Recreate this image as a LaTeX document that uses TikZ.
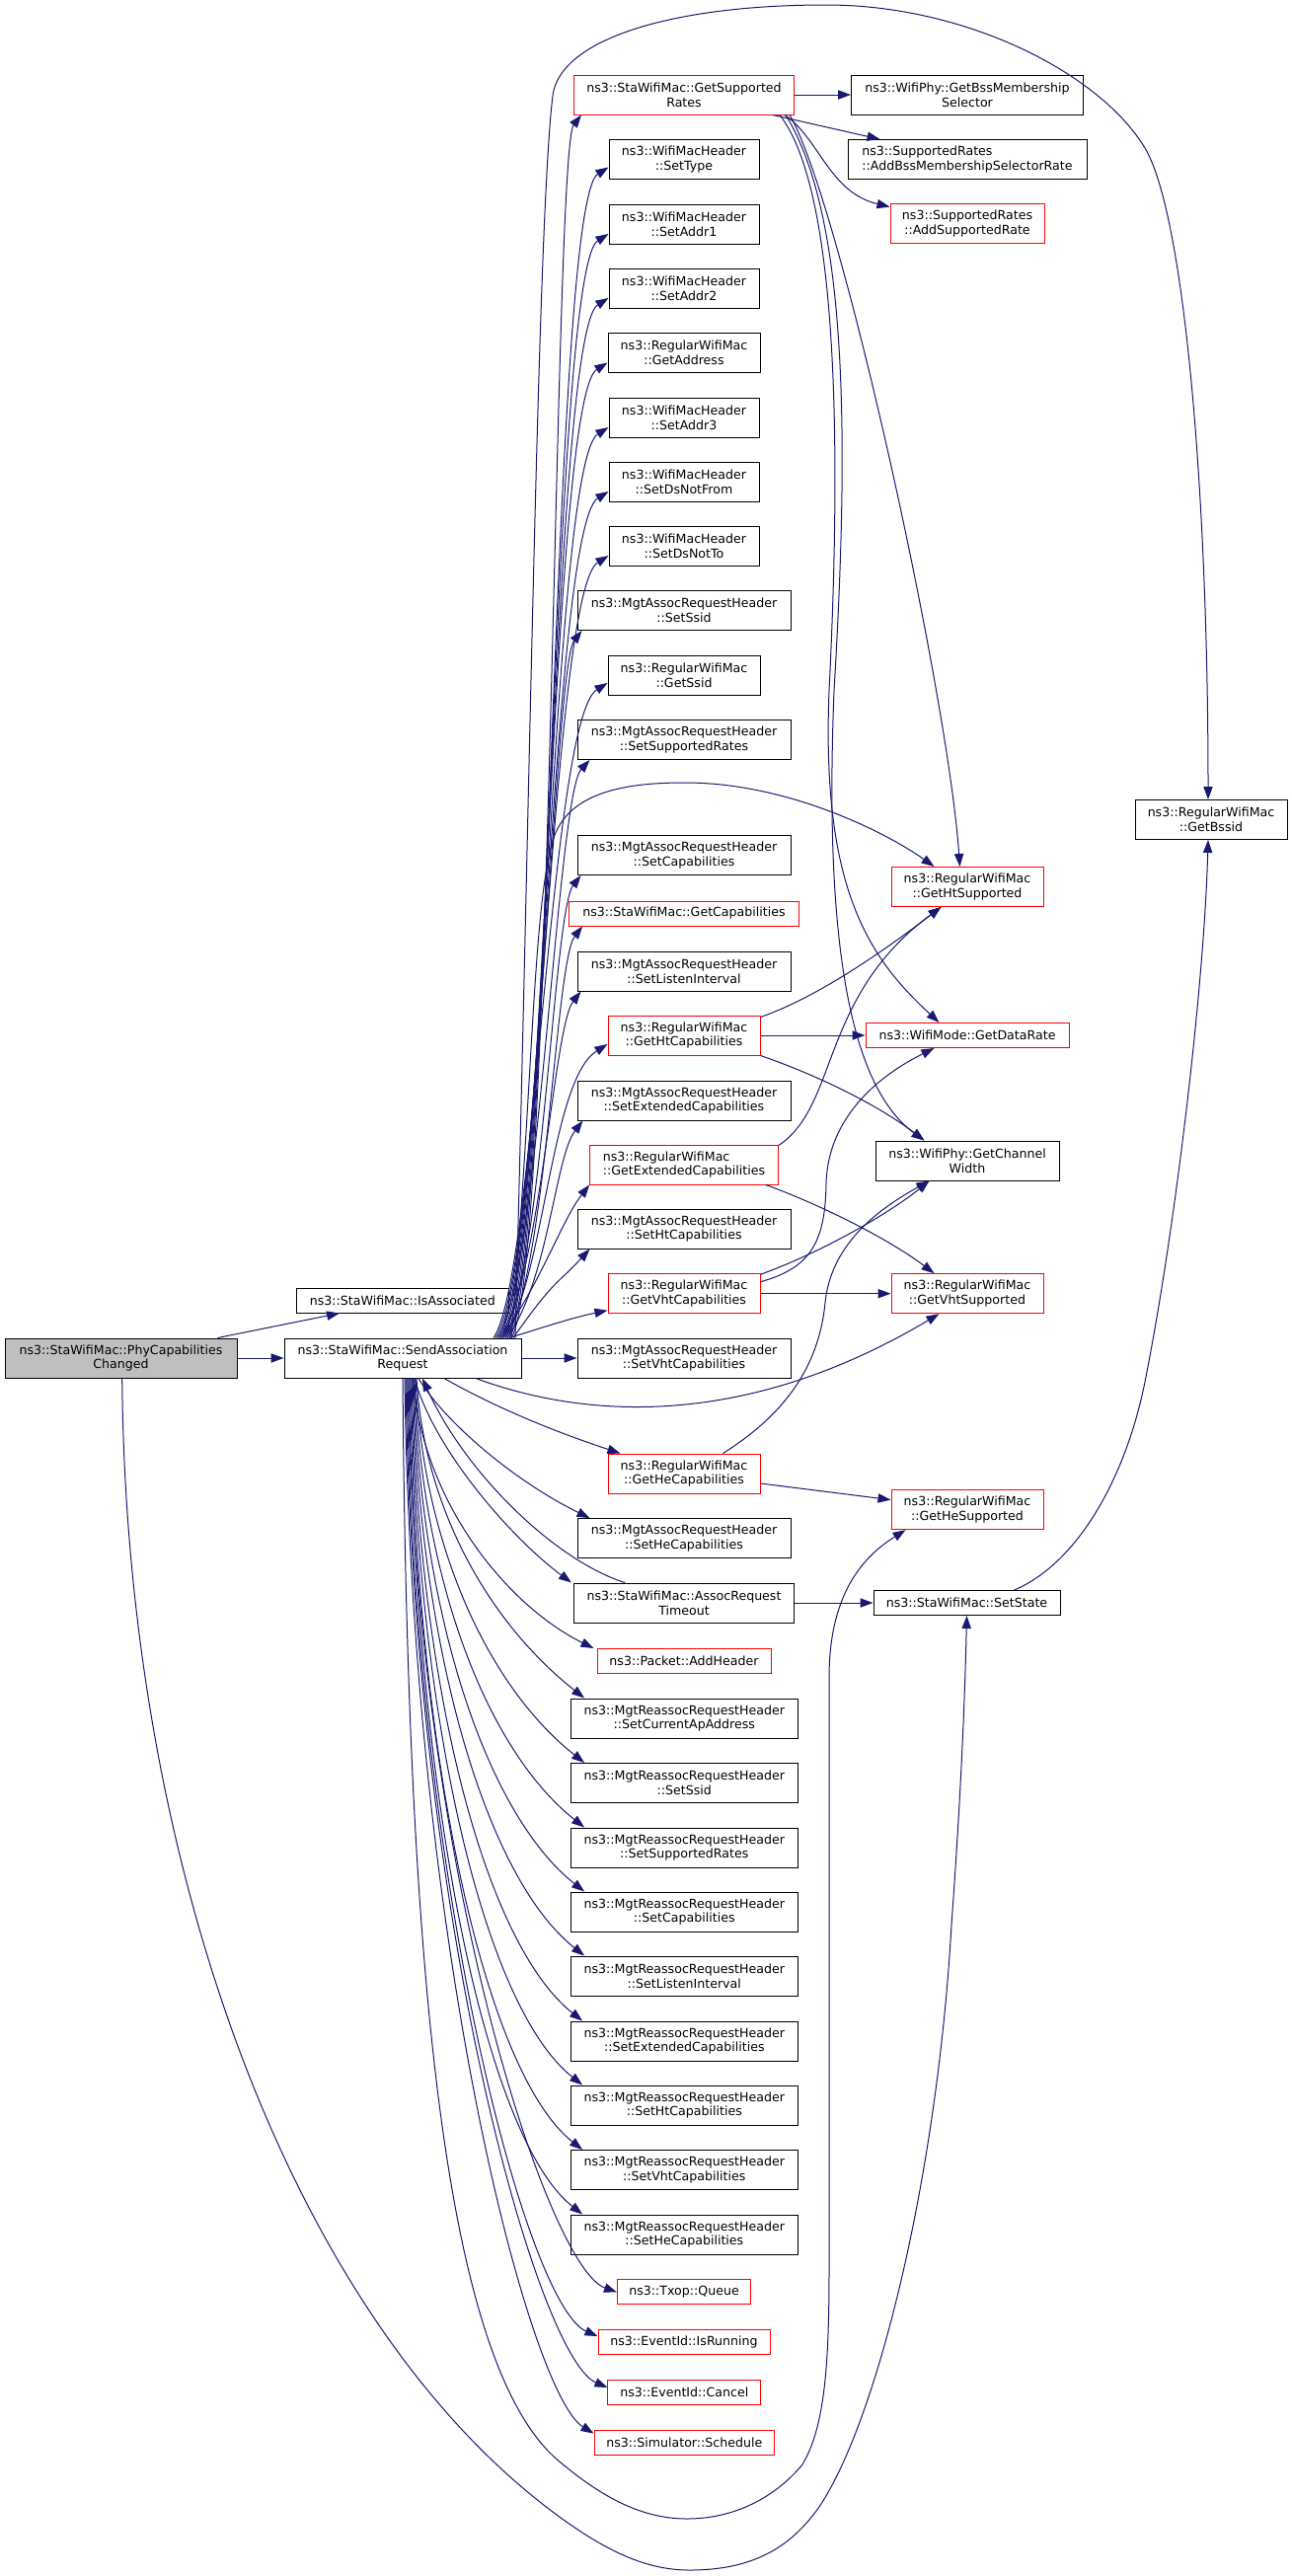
\documentclass[tikz,border=0pt]{standalone}
\usepackage{fontspec}
\newfontfamily\dvs{DejaVu Sans}
\usetikzlibrary{arrows.meta,calc}
\definecolor{edgec}{HTML}{191970}
\definecolor{rootgray}{HTML}{BFBFBF}
\definecolor{redb}{HTML}{FF0000}
\newcommand\fanUp[3]{\draw[cedge] let \p1=($(sar.north)+(#1,0)$), \p2=(#2) in (\p1) .. controls ({\x1+42pt},{\y1+60pt}) and ({\x2-#3pt-8pt},{\y2-36pt}) .. (\p2);}
\newcommand\fanDown[4]{\draw[cedge] let \p1=($(sar.south)+(#1,0)$), \p2=(#2) in (\p1) .. controls ({\x1+8pt},{\y1+0.6*(\y2-\y1)+60pt}) and ({\x2-#3pt},{\y2+#4pt}) .. (\p2);}
\begin{document}
\begin{tikzpicture}[x=1pt,y=-1pt,
 nb/.style={draw=black,fill=white,line width=1pt,inner sep=0pt,align=center,minimum height=40pt,font={\dvs\fontsize{12.6}{14.9}\selectfont}},
 one/.style={minimum height=25pt},
 rd/.style={draw=redb},
 cedge/.style={draw=edgec,line width=1pt,-{Triangle[length=13pt,width=9.3pt]},fill=none}]
\useasboundingbox (0,0) rectangle (1309,2610);
% column 0/1
\node[nb,fill=rootgray,minimum width=235pt] (phy) at (122.5,1376) {ns3::StaWifiMac::PhyCapabilities\\Changed};
\node[nb,one,minimum width=214.5pt] (isassoc) at (407.8,1317.5) {ns3::StaWifiMac::IsAssociated};
\node[nb,minimum width=240pt] (sar) at (408,1376) {ns3::StaWifiMac::SendAssociation\\Request};
% column 2
\node[nb,rd,minimum width=223pt] (gsr) at (693,96) {ns3::StaWifiMac::GetSupported\\Rates};
\node[nb,minimum width=152pt] (settype) at (693,161.5) {ns3::WifiMacHeader\\::SetType};
\node[nb,minimum width=152pt] (addr1) at (693,227) {ns3::WifiMacHeader\\::SetAddr1};
\node[nb,minimum width=152pt] (addr2) at (693,292) {ns3::WifiMacHeader\\::SetAddr2};
\node[nb,minimum width=154pt] (getaddr) at (693,357.5) {ns3::RegularWifiMac\\::GetAddress};
\node[nb,minimum width=152pt] (addr3) at (693,423) {ns3::WifiMacHeader\\::SetAddr3};
\node[nb,minimum width=152pt] (dsnotfrom) at (693,488) {ns3::WifiMacHeader\\::SetDsNotFrom};
\node[nb,minimum width=152pt] (dsnotto) at (693,553) {ns3::WifiMacHeader\\::SetDsNotTo};
\node[nb,minimum width=216pt] (mssid) at (693,618.5) {ns3::MgtAssocRequestHeader\\::SetSsid};
\node[nb,minimum width=154pt] (getssid) at (693,684) {ns3::RegularWifiMac\\::GetSsid};
\node[nb,minimum width=216pt] (msrates) at (693,749.5) {ns3::MgtAssocRequestHeader\\::SetSupportedRates};
\node[nb,minimum width=216pt] (mcap) at (693,866.5) {ns3::MgtAssocRequestHeader\\::SetCapabilities};
\node[nb,one,rd,minimum width=232.7pt] (getcap) at (693,925.5) {ns3::StaWifiMac::GetCapabilities};
\node[nb,minimum width=216pt] (mlisten) at (693,984) {ns3::MgtAssocRequestHeader\\::SetListenInterval};
\node[nb,rd,minimum width=154pt] (gethtcap) at (693,1049) {ns3::RegularWifiMac\\::GetHtCapabilities};
\node[nb,minimum width=216pt] (mext) at (693,1115) {ns3::MgtAssocRequestHeader\\::SetExtendedCapabilities};
\node[nb,rd,align=left,minimum width=190.7pt] (getextcap) at (693,1180) {ns3::RegularWifiMac\\::GetExtendedCapabilities};
\node[nb,minimum width=216pt] (mht) at (693,1245) {ns3::MgtAssocRequestHeader\\::SetHtCapabilities};
\node[nb,rd,minimum width=154pt] (getvhtcap) at (693,1310.7) {ns3::RegularWifiMac\\::GetVhtCapabilities};
\node[nb,minimum width=216pt] (mvht) at (693,1376) {ns3::MgtAssocRequestHeader\\::SetVhtCapabilities};
\node[nb,rd,minimum width=154pt] (gethecap) at (693,1493) {ns3::RegularWifiMac\\::GetHeCapabilities};
\node[nb,minimum width=216pt] (mhe) at (693,1558.6) {ns3::MgtAssocRequestHeader\\::SetHeCapabilities};
\node[nb,minimum width=223pt] (art) at (693,1624) {ns3::StaWifiMac::AssocRequest\\Timeout};
\node[nb,one,rd,minimum width=176pt] (addheader) at (693,1683) {ns3::Packet::AddHeader};
\node[nb,minimum width=229.4pt] (rcur) at (693.3,1741) {ns3::MgtReassocRequestHeader\\::SetCurrentApAddress};
\node[nb,minimum width=229.4pt] (rssid) at (693.3,1806.5) {ns3::MgtReassocRequestHeader\\::SetSsid};
\node[nb,minimum width=229.4pt] (rrates) at (693.3,1872) {ns3::MgtReassocRequestHeader\\::SetSupportedRates};
\node[nb,minimum width=229.4pt] (rcap) at (693.3,1937) {ns3::MgtReassocRequestHeader\\::SetCapabilities};
\node[nb,minimum width=229.4pt] (rlisten) at (693.3,2002) {ns3::MgtReassocRequestHeader\\::SetListenInterval};
\node[nb,minimum width=229.4pt] (rext) at (693.3,2068) {ns3::MgtReassocRequestHeader\\::SetExtendedCapabilities};
\node[nb,minimum width=229.4pt] (rht) at (693.3,2133) {ns3::MgtReassocRequestHeader\\::SetHtCapabilities};
\node[nb,minimum width=229.4pt] (rvht) at (693.3,2198.5) {ns3::MgtReassocRequestHeader\\::SetVhtCapabilities};
\node[nb,minimum width=229.4pt] (rhe) at (693.3,2264) {ns3::MgtReassocRequestHeader\\::SetHeCapabilities};
\node[nb,one,rd,minimum width=135.2pt] (txop) at (693.1,2322.4) {ns3::Txop::Queue};
\node[nb,one,rd,minimum width=174pt] (isrun) at (693,2373) {ns3::EventId::IsRunning};
\node[nb,one,rd,minimum width=154.7pt] (cancel) at (693.3,2424) {ns3::EventId::Cancel};
\node[nb,one,rd,minimum width=182.6pt] (sched) at (693.3,2474.6) {ns3::Simulator::Schedule};
% column 3
\node[nb,minimum width=235pt] (bss) at (980,96) {ns3::WifiPhy::GetBssMembership\\Selector};
\node[nb,align=left,minimum width=242pt] (addbss) at (980,161.6) {ns3::SupportedRates\\::AddBssMembershipSelectorRate};
\node[nb,rd,minimum width=156pt] (addsr) at (980,226.6) {ns3::SupportedRates\\::AddSupportedRate};
\node[nb,rd,minimum width=154pt] (htsup) at (980,898.5) {ns3::RegularWifiMac\\::GetHtSupported};
\node[nb,one,rd,minimum width=206pt] (datarate) at (980,1049) {ns3::WifiMode::GetDataRate};
\node[nb,minimum width=186pt] (chw) at (980,1176) {ns3::WifiPhy::GetChannel\\Width};
\node[nb,rd,minimum width=154pt] (vhtsup) at (980,1310.7) {ns3::RegularWifiMac\\::GetVhtSupported};
\node[nb,rd,minimum width=154pt] (hesup) at (980,1529.6) {ns3::RegularWifiMac\\::GetHeSupported};
\node[nb,one,minimum width=189pt] (setstate) at (979.5,1624) {ns3::StaWifiMac::SetState};
% column 4
\node[nb,minimum width=154pt] (bssid) at (1227,830.5) {ns3::RegularWifiMac\\::GetBssid};

% ---- edges from root
\draw[cedge] (phy.east) -- (sar.west);
\draw[cedge] ($(phy.north east)+(-20,0)$) -- ($(isassoc.south west)+(44,0)$);
\draw[cedge] ($(phy.south)+(1.2,0)$) .. controls (128,1900) and (300,2350) .. (560,2545) .. controls (620,2590) and (660,2604) .. (699,2604) .. controls (770,2604) and (805,2575) .. (830,2540) .. controls (890,2450) and (950,2200) .. (964,1950) .. controls (975,1800) and (978,1700) .. (setstate.south);

% ---- top fan from SendAssociationRequest
\fanUp{110}{$(gsr.south west)+(8,0)$}{20}
\fanUp{108}{$(settype.west)+(0,8)$}{50}
\fanUp{106}{$(addr1.west)+(0,10)$}{50}
\fanUp{104}{$(addr2.west)+(0,10)$}{50}
\fanUp{102}{$(getaddr.west)+(0,10)$}{50}
\fanUp{100}{$(addr3.west)+(0,10)$}{50}
\fanUp{98}{$(dsnotfrom.west)+(0,10)$}{50}
\fanUp{96}{$(dsnotto.west)+(0,10)$}{50}
\fanUp{94}{$(mssid.south west)+(5,0)$}{20}
\fanUp{92}{$(getssid.west)+(0,8)$}{50}
\fanUp{96}{$(msrates.south west)+(13,0)$}{25}
\fanUp{100}{$(mcap.south west)+(4,0)$}{20}
\fanUp{104}{$(getcap.south west)+(14,0)$}{20}
\fanUp{98}{$(mlisten.south west)+(4,0)$}{20}
\fanUp{102}{$(gethtcap.west)+(0,9)$}{50}
\fanUp{106}{$(mext.south west)+(6,0)$}{20}
\fanUp{100}{$(getextcap.south west)$}{20}
\fanUp{112}{$(mht.south west)+(13,0)$}{25}
\draw[cedge] ($(sar.north)+(108,0)$) .. controls (550,1345) and (580,1335) .. ($(getvhtcap.west)+(0,17)$);
\draw[cedge] (sar.east) -- (mvht.west);
% arc to GetHtSupported
\draw[cedge] ($(sar.north)+(110,0)$) .. controls (540,1100) and (540,920) .. (560,852) .. controls (575,800) and (640,793) .. (694,793) .. controls (800,793) and (900,845) .. ($(htsup.north west)+(44,0)$);
% arc to GetBssid
\draw[cedge] ($(sar.north)+(114,0)$) .. controls (537,800) and (545,220) .. (560,97) .. controls (567,40) and (680,5) .. (837,5) .. controls (980,5) and (1115,75) .. (1160,150) .. controls (1200,217) and (1224,500) .. ($(bssid.north)+(-3,0)$);

% ---- bottom fan from SendAssociationRequest
\draw[cedge] ($(sar.south)+(74,0)$) .. controls (600,1440) and (760,1445) .. ($(vhtsup.south west)+(49,0)$);
\draw[cedge] ($(sar.south)+(42,0)$) .. controls (500,1425) and (560,1450) .. ($(gethecap.north west)+(13,0)$);
\draw[cedge] ($(sar.south)+(16,0)$) .. controls (450,1440) and (520,1500) .. ($(mhe.north west)+(13,0)$);
\draw[cedge] ($(sar.south)+(12,0)$) .. controls (440,1470) and (520,1560) .. ($(art.north west)+(-2,0)$);
\draw[cedge] ($(art.north west)+(52,0)$) .. controls (560,1580) and (470,1490) .. ($(sar.south)+(20,0)$);
\draw[cedge] ($(sar.south)+(10,0)$) .. controls (430,1530) and (520,1630) .. ($(addheader.north west)+(-3,0)$);
\fanDown{14}{$(rcur.north west)+(14,0)$}{95}{75}
\fanDown{13}{$(rssid.north west)+(14,0)$}{95}{75}
\fanDown{12}{$(rrates.north west)+(14,0)$}{95}{75}
\fanDown{11}{$(rcap.north west)+(14,0)$}{95}{75}
\fanDown{10}{$(rlisten.north west)+(14,0)$}{95}{75}
\fanDown{9}{$(rext.north west)+(12,0)$}{95}{75}
\fanDown{8}{$(rht.north west)+(12,0)$}{95}{75}
\fanDown{7}{$(rvht.north west)+(12,0)$}{95}{75}
\fanDown{6}{$(rhe.north west)+(12,0)$}{95}{75}
\fanDown{5}{$(txop.west)$}{70}{25}
\fanDown{4}{$(isrun.west)+(0,-6)$}{70}{30}
\fanDown{3}{$(cancel.west)+(0,-5)$}{70}{30}
\fanDown{2}{$(sched.west)+(0,-9)$}{65}{40}
% loop to GetHeSupported
\draw[cedge] ($(sar.south)+(0,0)$) .. controls (413,2000) and (450,2400) .. (568,2495) .. controls (610,2530) and (650,2552) .. (696,2552) .. controls (750,2552) and (790,2525) .. (813,2497) .. controls (835,2460) and (840,2400) .. (840,2300) -- (840,1700) .. controls (840,1620) and (870,1580) .. ($(hesup.south west)+(15,0)$);

% ---- other edges
\draw[cedge] (art.east) -- (setstate.west);
\draw[cedge] ($(setstate.north)+(48,0)$) .. controls (1090,1585) and (1140,1500) .. (1160,1400) .. controls (1190,1250) and (1220,1000) .. ($(bssid.south)+(-3,0)$);
% GetSupportedRates
\draw[cedge] (gsr.east) -- (bss.west);
\draw[cedge] ($(gsr.south east)+(-22,0)$) -- ($(addbss.north west)+(33,0)$);
\draw[cedge] ($(gsr.south east)+(-10,0)$) .. controls (830,140) and (840,195) .. ($(addsr.west)+(0,-17)$);
\draw[cedge] ($(gsr.south east)+(-5,0)$) .. controls (850,200) and (960,700) .. ($(htsup.north west)+(70,0)$);
\draw[cedge] ($(gsr.south east)+(-15,0)$) .. controls (855,200) and (850,500) .. (840,700) .. controls (832,900) and (880,970) .. ($(datarate.north west)+(75,0)$);
\draw[cedge] ($(gsr.south east)+(-9,0)$) .. controls (860,220) and (860,450) .. (845,700) .. controls (835,950) and (860,1100) .. ($(chw.north west)+(50,0)$);
% GetHtCapabilities
\draw[cedge] ($(gethtcap.north east)+(0,2)$) .. controls (830,1010) and (900,960) .. ($(htsup.south west)+(51,0)$);
\draw[cedge] (gethtcap.east) -- (datarate.west);
\draw[cedge] (gethtcap.south east) .. controls (830,1090) and (890,1120) .. ($(chw.north west)+(50,0)$);
% GetExtendedCapabilities
\draw[cedge] ($(getextcap.north east)+(0,1)$) .. controls (850,1120) and (830,1010) .. ($(htsup.south west)+(51,0)$);
\draw[cedge] ($(getextcap.south east)+(-13,0)$) .. controls (830,1220) and (900,1255) .. ($(vhtsup.north west)+(44,0)$);
% GetVhtCapabilities
\draw[cedge] (getvhtcap.east) -- (vhtsup.west);
\draw[cedge] ($(getvhtcap.north east)+(0,1)$) .. controls (830,1270) and (900,1230) .. ($(chw.south west)+(55,0)$);
\draw[cedge] ($(getvhtcap.east)+(0,-12)$) .. controls (820,1285) and (836,1260) .. (837,1200) .. controls (838,1140) and (880,1095) .. ($(datarate.south west)+(70,0)$);
% GetHeCapabilities
\draw[cedge] ($(gethecap.east)+(0,10)$) -- ($(hesup.west)+(0,-10)$);
\draw[cedge] ($(gethecap.north east)+(-38,0)$) .. controls (800,1430) and (830,1380) .. (836,1320) .. controls (842,1260) and (890,1225) .. ($(chw.south west)+(55,0)$);
\end{tikzpicture}
\end{document}
